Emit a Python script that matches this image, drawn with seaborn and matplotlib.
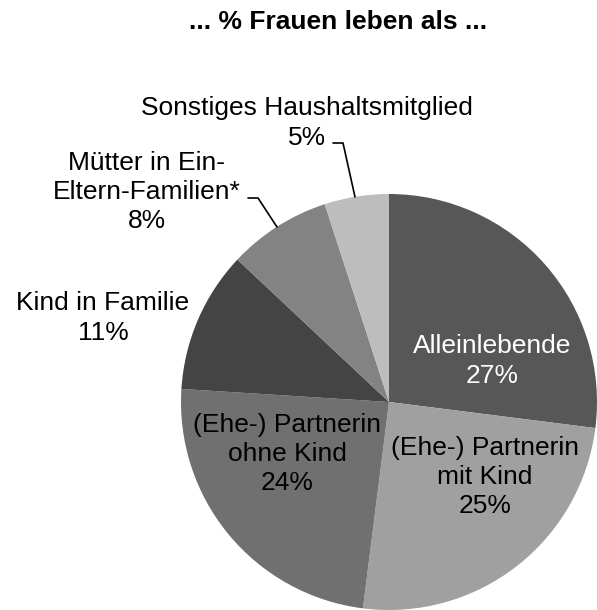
import matplotlib
matplotlib.use("Agg")
import matplotlib.pyplot as plt
import seaborn as sns

categories = ["Alleinlebende", "(Ehe-) Partnerin\nmit Kind", "(Ehe-) Partnerin\nohne Kind",
              "Kind in Familie", "Mütter in Ein-\nEltern-Familien*", "Sonstiges Haushaltsmitglied"]
values = [27, 25, 24, 11, 8, 5]
colors = ["#575757", "#a0a0a0", "#707070", "#444444", "#838383", "#bdbdbd"]
text_colors = ["white", "black", "black", "black", "black", "black"]

sns.set_theme(style="white")
plt.rcParams["font.family"] = ["Liberation Sans", "DejaVu Sans"]

W, H = 597, 610
fig = plt.figure(figsize=(W / 100, H / 100), dpi=100)
ax = fig.add_axes([0, 0, 1, 1])

def Y(y):
    return H - y

cx, cy, r = 389, 402, 208
ax.pie(values, colors=colors, startangle=90, counterclock=False,
       center=(cx, Y(cy)), radius=r, wedgeprops=dict(linewidth=0))
ax.set_xlim(0, W)
ax.set_ylim(0, H)
ax.set_aspect("auto")
ax.axis("off")

# label positions (layout, pixel coords)
label_pos = [(492, 361), (485, 477), (287, 454), (103, 318), (147, 192), (307, 123)]
for cat, v, (lx, ly), tc in zip(categories, values, label_pos, text_colors):
    ax.text(lx, Y(ly), f"{cat}\n{v}%", ha="center", va="center", fontsize=19,
            color=tc, linespacing=1.27)

# leader lines
ax.plot([333, 343, 355], [Y(143), Y(143), Y(197)], color="black", lw=1.2)
ax.plot([248, 258, 277], [Y(198), Y(198), Y(227)], color="black", lw=1.2)

ax.text(338, Y(22), "... % Frauen leben als ...", ha="center", va="center",
        fontsize=19, fontweight="bold", color="black")

fig.savefig("out.png", dpi=100)
